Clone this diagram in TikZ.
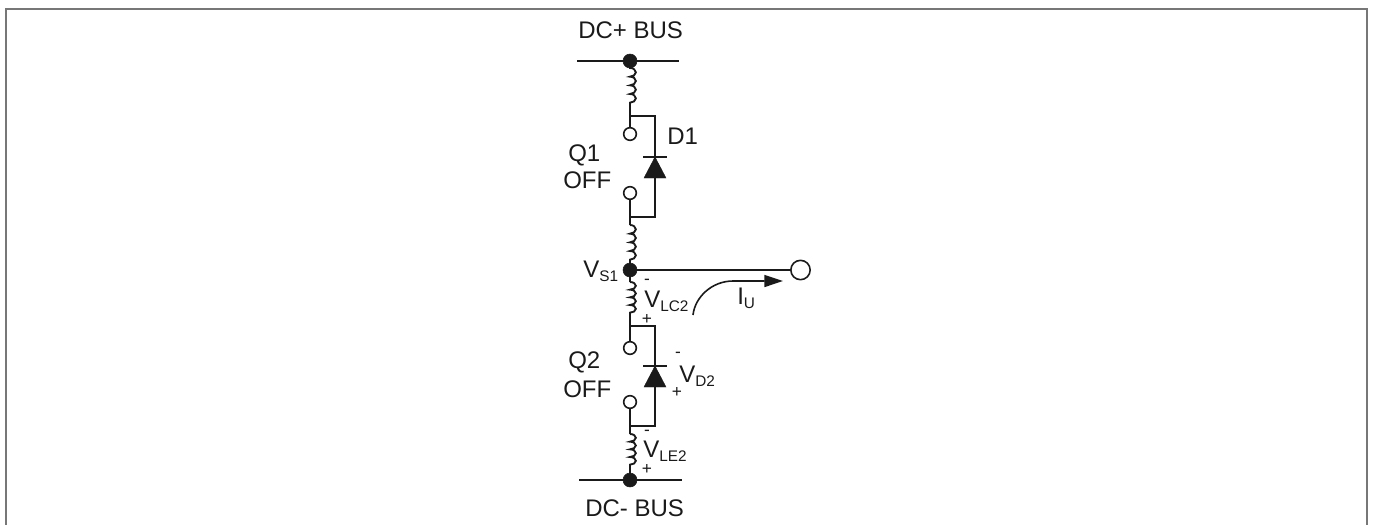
\documentclass[tikz,border=0pt]{standalone}
\usepackage{fontspec}
\setmainfont{Liberation Sans}
\usetikzlibrary{decorations.pathmorphing,arrows.meta,positioning}
\newcommand{\subV}[3]{#1\kern#3pt\raisebox{-3.5pt}{\fontsize{11.5}{11.5}\selectfont #2}}
\definecolor{ink}{HTML}{1A1A1A}
\definecolor{framegray}{HTML}{777777}
\tikzset{
  x=0.75pt,y=-0.75pt,
  wire/.style={draw=ink,line width=1.5pt},
  thinwire/.style={draw=ink,line width=1.2pt},
  coilw/.style={draw=ink,line width=1.4pt,decorate,decoration={bumps,segment length=13pt,amplitude=4.4pt}},
  coils/.style={draw=ink,line width=1.4pt,decorate,decoration={bumps,segment length=11.5pt,amplitude=4.4pt}},
  lbl/.style={anchor=base west,inner sep=0pt,text=ink,font=\fontsize{18}{18}\selectfont},
  sgn/.style={anchor=center,inner sep=0pt,text=ink,font=\fontsize{13}{13}\selectfont},
  jdot/.style={circle,fill=ink,draw=ink,inner sep=0pt,minimum size=10.5pt},
  opn/.style={circle,fill=white,draw=ink,line width=1.2pt,inner sep=0pt,minimum size=9.5pt},
  opnbig/.style={circle,fill=white,draw=ink,line width=1.2pt,inner sep=0pt,minimum size=14.5pt},
  dtri/.style={fill=ink,draw=ink,line width=0.3pt,line join=miter},
}
\begin{document}
\begin{tikzpicture}
\useasboundingbox (0,0) rectangle (1375,525);
\draw[framegray,line width=1.5pt] (5.5,525) -- (5.5,9) -- (1367,9) -- (1367,525);

% key coordinates
\coordinate (busTL) at (577,61);  \coordinate (busTR) at (679,61);
\coordinate (l1a) at (630,68);    \coordinate (l1b) at (630,106);
\coordinate (j1) at (630,116);    \coordinate (r1) at (655,116);
\coordinate (j2) at (630,217);    \coordinate (r2) at (655,217);
\coordinate (l2a) at (630,225);   \coordinate (l2b) at (630,263);
\coordinate (l3a) at (630,282);   \coordinate (l3b) at (630,316);
\coordinate (j3) at (630,326);    \coordinate (r3) at (655,326);
\coordinate (j4) at (630,426);    \coordinate (r4) at (655,426);
\coordinate (l4a) at (630,434);   \coordinate (l4b) at (630,468);
\coordinate (busBL) at (579,480); \coordinate (busBR) at (682,480);
\coordinate (arrS) at (693,315);  \coordinate (arrM) at (733,281); \coordinate (arrE) at (783,281);

% wires
\draw[wire] (busTL) -- (busTR);
\draw[wire] (busBL) -- (busBR);
\node[jdot] (top) at (630,61) {};
\node[jdot] (mid) at (630,270) {};
\node[jdot] (bot) at (630,480) {};
\node[opnbig] (out) at (800.5,270) {};
\draw[wire] (mid) -- (out);

\draw[wire] (top) -- (l1a);
\draw[coilw] (l1a) -- (l1b);
\draw[wire] (l1b) -- (j1) -- (r1) -- (r2) -- (j2);
\node[opn] (q1a) at (630,134) {};
\node[opn] (q1b) at (630,193) {};
\draw[wire] (j1) -- (q1a);
\draw[wire] (q1b) -- (j2) -- (l2a);
\draw[coilw] (l2a) -- (l2b);
\draw[wire] (l2b) -- (mid);

\draw[wire] (mid) -- (l3a);
\draw[coils] (l3a) -- (l3b);
\draw[wire] (l3b) -- (j3) -- (r3) -- (r4) -- (j4);
\node[opn] (q2a) at (630,348) {};
\node[opn] (q2b) at (630,402) {};
\draw[wire] (j3) -- (q2a);
\draw[wire] (q2b) -- (j4) -- (l4a);
\draw[coils] (l4a) -- (l4b);
\draw[wire] (l4b) -- (bot);

% diodes
\draw[dtri] (655,157) -- (666,178) -- (644,178) -- cycle;
\draw[wire] (643,157) -- (667,157);
\draw[dtri] (655,366) -- (666,387) -- (644,387) -- cycle;
\draw[wire] (643,366) -- (667,366);

% current arrow
\draw[thinwire,-{Triangle[length=14pt,width=9pt]}] (arrS) .. controls (695,297) and (712,281) .. (arrM) -- (arrE);

% labels
\node[lbl] (tDCp) at (578,38) {DC+ BUS};
\node[lbl] (tDCm) at (585,516) {DC- BUS};
\node[lbl] (tQ1) at (568,161) {Q1};
\node[lbl] (tOFF1) at (563,188) {OFF};
\node[lbl] (tD1) at (667,144) {D1};
\node[lbl] (tQ2) at (568,368) {Q2};
\node[lbl] (tOFF2) at (563,397) {OFF};
\node[lbl] (tVS) at (583,277) {\subV{V}{S1}{0}};
\node[lbl] (tVLC) at (644,307) {\subV{V}{LC2}{0}};
\node[lbl] (tIU) at (737,304) {\subV{I}{U}{0}};
\node[lbl] (tVD) at (679,382) {\subV{V}{D2}{0}};
\node[lbl] (tVLE) at (643,457) {\subV{V}{LE2}{0}};
\node[sgn] (s1) at (647,282) {-};
\node[sgn] (s2) at (647,319) {+};
\node[sgn] (s3) at (678,355) {-};
\node[sgn] (s4) at (677,392) {+};
\node[sgn] (s5) at (647,433) {-};
\node[sgn] (s6) at (647,469) {+};
\end{tikzpicture}
\end{document}
